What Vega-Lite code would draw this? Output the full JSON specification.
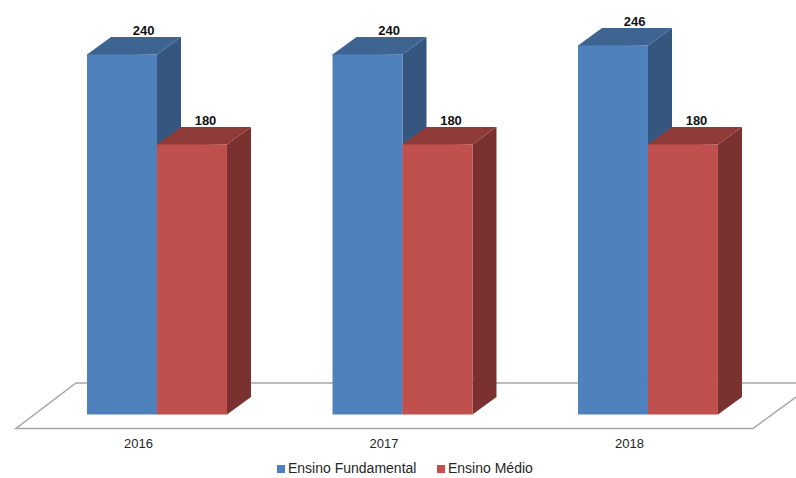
{
"$schema":"https://vega.github.io/schema/vega-lite/v6.json",
"width":796,"height":478,"padding":0,"autosize":{"type":"none"},
"background":"white",
"config":{"view":{"stroke":null},"font":"Liberation Sans"},
"datasets":{
"bars":[
{"year":2016,"series":"Ensino Fundamental","value":240},
{"year":2016,"series":"Ensino Médio","value":180},
{"year":2017,"series":"Ensino Fundamental","value":240},
{"year":2017,"series":"Ensino Médio","value":180},
{"year":2018,"series":"Ensino Fundamental","value":246},
{"year":2018,"series":"Ensino Médio","value":180}],
"floor":[
{"i":0,"x":2018.6029,"y":21},
{"i":1,"x":2015.6701,"y":21},
{"i":2,"x":2015.4257,"y":-9.33},
{"i":3,"x":2018.4277,"y":-9.33},
{"i":4,"x":2018.6029,"y":11.67}]
},
"encoding":{
"x":{"field":"x","type":"quantitative","scale":{"domain":[2015.3605,2018.6029],"nice":false,"zero":false},
"axis":{"title":null,"grid":false,"domain":false,"ticks":false,"values":[2016,2017,2018],"format":"d","labelFont":"Liberation Sans","labelFontSize":13,"labelColor":"#262626","labelOffset":-19,"labelPadding":0,"offset":-41,"labelFlush":false}},
"y":{"field":"y","type":"quantitative","scale":{"domain":[-42.33,276.33],"nice":false,"zero":false},"axis":null}
},
"resolve":{"scale":{"color":"independent"}},
"layer":[
{"data":{"name":"floor"},"mark":{"type":"line","color":"#a6a6a6","strokeWidth":1.5,"interpolate":"linear"},
"encoding":{"order":{"field":"i","type":"quantitative"}}},
{"data":{"name":"bars"},
"transform":[
{"calculate":"datum.year+(datum.series=='Ensino Médio'?0:-0.2851)","as":"left"},
{"calculate":"[0,1]","as":"t"},{"flatten":["t"]},
{"calculate":"datum.left+0.2851+datum.t*0.0978","as":"x"},
{"calculate":"datum.value+datum.t*11.67","as":"y"},
{"calculate":"datum.t*11.67","as":"y2"}],
"mark":{"type":"area","opacity":1},
"encoding":{"y2":{"field":"y2"},"detail":{"field":"year"},
"color":{"field":"series","type":"nominal","legend":null,"scale":{"domain":["Ensino Fundamental","Ensino Médio"],"range":["#35567f","#7b312f"]}}}},
{"data":{"name":"bars"},
"transform":[
{"calculate":"datum.year+(datum.series=='Ensino Médio'?0:-0.2851)","as":"left"},
{"calculate":"[0,1,2,3]","as":"t"},{"flatten":["t"]},
{"calculate":"datum.left+[0,0.0978,0.2851,0.3829][datum.t]","as":"x"},
{"calculate":"datum.value+[0,11.67,11.67,11.67][datum.t]","as":"y"},
{"calculate":"datum.value+[-0.7,-0.7,0,11.67][datum.t]","as":"y2"}],
"mark":{"type":"area","opacity":1},
"encoding":{"y2":{"field":"y2"},"detail":{"field":"year"},
"color":{"field":"series","type":"nominal","legend":null,"scale":{"domain":["Ensino Fundamental","Ensino Médio"],"range":["#3e6592","#8f3b39"]}}}},
{"data":{"name":"bars"},
"transform":[
{"calculate":"datum.year+(datum.series=='Ensino Médio'?0:-0.2851)","as":"x"},
{"calculate":"datum.x+0.2851","as":"x2"},
{"calculate":"datum.value","as":"y"},
{"calculate":"0","as":"y2"}],
"mark":{"type":"rect"},
"encoding":{"x2":{"field":"x2"},"y2":{"field":"y2"},
"color":{"field":"series","type":"nominal","title":null,"scale":{"domain":["Ensino Fundamental","Ensino Médio"],"range":["#4f81bd","#c0504d"]},
"legend":{"orient":"none","legendX":274,"legendY":462,"direction":"horizontal","columns":2,"symbolType":"square","symbolSize":64,"symbolStrokeWidth":0,"labelFont":"Liberation Sans","labelFontSize":14,"labelColor":"#262626","labelOffset":0,"columnPadding":17,"padding":0}}}},
{"data":{"name":"bars"},
"transform":[
{"calculate":"datum.year+(datum.series=='Ensino Médio'?0.1976:-0.0541)","as":"x"},
{"calculate":"datum.value","as":"y"}],
"mark":{"type":"text","font":"Liberation Sans","fontWeight":"bold","fontSize":13,"color":"#111111","dy":-23,"baseline":"middle"},
"encoding":{"text":{"field":"value","type":"quantitative"}}}
]
}
